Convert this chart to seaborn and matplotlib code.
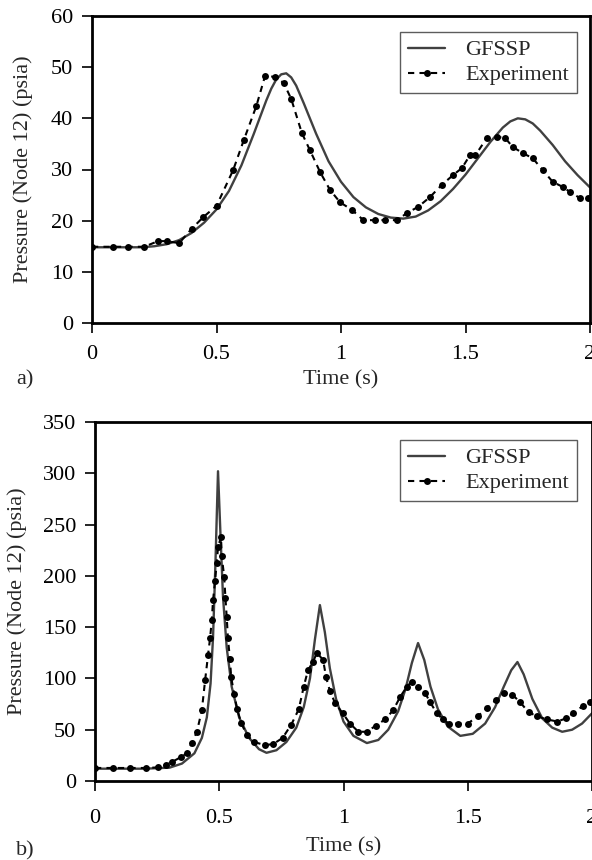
import numpy as np
import pandas as pd
import matplotlib
matplotlib.use("Agg")
import matplotlib.pyplot as plt
import seaborn as sns

# ---------------- data: panel a ----------------
a_gfssp_t = [0.0, 0.1, 0.2, 0.25, 0.3, 0.35, 0.4, 0.45, 0.5, 0.55, 0.6, 0.65, 0.7, 0.72, 0.74,
             0.76, 0.78, 0.8, 0.82, 0.85, 0.9, 0.95, 1.0, 1.05, 1.1, 1.15, 1.2, 1.25, 1.3,
             1.35, 1.4, 1.45, 1.5, 1.55, 1.6, 1.65, 1.68, 1.71, 1.74, 1.77, 1.8, 1.85, 1.9,
             1.95, 2.0]
a_gfssp_p = [14.8, 14.8, 14.8, 15.0, 15.4, 16.2, 17.6, 19.6, 22.2, 25.8, 30.8, 37.0, 43.5, 45.8, 47.6,
             48.6, 48.8, 48.0, 46.4, 43.0, 37.0, 31.6, 27.6, 24.6, 22.6, 21.3, 20.6, 20.4, 20.8,
             22.0, 23.8, 26.2, 29.0, 32.2, 35.4, 38.2, 39.4, 40.0, 39.8, 39.0, 37.6, 34.8, 31.6,
             28.9, 26.5]
a_exp_t = [0.0, 0.085, 0.145, 0.21, 0.265, 0.3, 0.35, 0.4, 0.447, 0.5, 0.567, 0.61, 0.66, 0.695,
           0.735, 0.77, 0.80, 0.843, 0.875, 0.916, 0.956, 0.996, 1.044, 1.09, 1.137, 1.177,
           1.225, 1.265, 1.31, 1.357, 1.405, 1.45, 1.486, 1.518, 1.54, 1.586, 1.627, 1.66,
           1.69, 1.73, 1.77, 1.81, 1.85, 1.89, 1.92, 1.96, 1.99]
a_exp_p = [14.9, 14.9, 14.9, 14.9, 16.0, 16.0, 15.6, 18.4, 20.7, 22.9, 29.9, 35.8, 42.4, 48.3,
           48.1, 46.9, 43.8, 37.1, 33.8, 29.5, 26.0, 23.6, 22.1, 20.1, 20.1, 20.1,
           20.1, 21.5, 22.7, 24.6, 27.0, 28.9, 30.3, 32.8, 32.8, 36.2, 36.4, 36.1,
           34.4, 33.2, 32.2, 29.9, 27.6, 26.6, 25.6, 24.4, 24.4]

# ---------------- data: panel b ----------------
b_gfssp_t = [0.0, 0.1, 0.2, 0.3, 0.35, 0.4, 0.43, 0.45, 0.465, 0.475, 0.485, 0.495, 0.505,
             0.515, 0.53, 0.55, 0.58, 0.62, 0.66, 0.69, 0.73, 0.77, 0.81, 0.84, 0.865, 0.885,
             0.905, 0.925, 0.945, 0.97, 1.0, 1.04, 1.094, 1.14, 1.18, 1.22, 1.25, 1.275, 1.30,
             1.325, 1.35, 1.38, 1.42, 1.47, 1.52, 1.57, 1.61, 1.645, 1.675, 1.70, 1.725, 1.76,
             1.80, 1.84, 1.88, 1.92, 1.96, 2.0]
b_gfssp_p = [12.0, 12.0, 12.0, 13.0, 17.0, 27.0, 42.0, 62.0, 95.0, 140.0, 215.0, 302.0, 240.0,
             180.0, 130.0, 92.0, 62.0, 42.0, 31.0, 27.5, 30.0, 38.0, 52.0, 72.0, 100.0, 138.0,
             171.5, 145.0, 110.0, 80.0, 58.0, 44.0, 37.0, 40.0, 50.0, 68.0, 90.0, 115.0, 134.5,
             118.0, 92.0, 70.0, 53.0, 44.0, 46.0, 56.0, 72.0, 92.0, 108.0, 116.0, 104.0, 80.0,
             61.0, 52.0, 48.0, 50.0, 56.0, 66.0]
b_exp_t = [0.0, 0.073, 0.14, 0.205, 0.255, 0.285, 0.31, 0.346, 0.37, 0.39, 0.41, 0.43, 0.443,
           0.455, 0.463, 0.47, 0.475, 0.483, 0.49, 0.495, 0.507, 0.51, 0.52, 0.525, 0.53, 0.535,
           0.543, 0.548, 0.56, 0.572, 0.588, 0.61, 0.64, 0.684, 0.717, 0.755, 0.79, 0.82, 0.84,
           0.857, 0.877, 0.893, 0.918, 0.93, 0.945, 0.966, 0.997, 1.026, 1.06, 1.094, 1.13,
           1.167, 1.2, 1.228, 1.255, 1.275, 1.3, 1.328, 1.348, 1.376, 1.4, 1.425, 1.46, 1.5,
           1.54, 1.577, 1.614, 1.646, 1.68, 1.71, 1.745, 1.78, 1.82, 1.86, 1.895, 1.925, 1.962,
           1.99]
b_exp_p = [12.7, 12.7, 12.7, 12.7, 13.3, 15.6, 18.5, 23.4, 27.3, 37.0, 48.0, 69.0, 98.0,
           123.0, 139.0, 157.0, 176.0, 195.0, 213.0, 228.0, 238.0, 219.0, 199.0, 178.0, 160.0, 139.0,
           119.0, 101.0, 85.0, 70.0, 57.0, 45.0, 38.0, 35.0, 36.0, 42.0, 55.0, 70.0, 92.0,
           108.0, 116.0, 125.0, 118.0, 101.0, 88.0, 76.0, 66.0, 56.0, 48.0, 48.0, 54.0,
           60.0, 69.0, 82.0, 92.0, 97.0, 92.0, 86.0, 77.0, 66.0, 60.0, 56.0, 56.0, 56.0,
           63.0, 71.0, 79.0, 86.0, 84.0, 77.0, 67.0, 63.0, 60.0, 58.0, 61.0, 66.0, 73.0,
           77.0]

x_ticks = [0, 0.5, 1, 1.5, 2]
x_tick_labels = ["0", "0.5", "1", "1.5", "2"]
a_y_ticks = [0, 10, 20, 30, 40, 50, 60]
b_y_ticks = [0, 50, 100, 150, 200, 250, 300, 350]
series_names = ["GFSSP", "Experiment"]
panel_labels = ["a)", "b)"]

sns.set_theme(style="ticks")
plt.rcParams["font.family"] = ["Liberation Serif", "DejaVu Serif"]
plt.rcParams["font.size"] = 16

W, H = 592, 860
fig = plt.figure(figsize=(W / 100, H / 100), dpi=100)
# axes boxes in pixel coords (left, top, right, bottom)
box_a = (92, 16, 590, 323)
box_b = (95, 422, 592, 781)


def add_axes(box):
    l, t, r, b = box
    return fig.add_axes([l / W, 1 - b / H, (r - l) / W, (b - t) / H])


ax_a = add_axes(box_a)
ax_b = add_axes(box_b)

gcol = "#404040"
FS = 16


def draw(ax, box, gt, gp, et, ep, yticks, ymax, label, label_y, ylab_x, xlab_y, leg_anchor, xpad):
    l, t, r, b = box
    dg = pd.DataFrame({"t": gt, "p": gp})
    de = pd.DataFrame({"t": et, "p": ep})
    sns.lineplot(data=dg, x="t", y="p", ax=ax, color=gcol, linewidth=1.7,
                 label=series_names[0])
    sns.lineplot(data=de, x="t", y="p", ax=ax, color="black", linewidth=1.5,
                 linestyle=(0, (3, 2.5)), marker="o", markersize=5,
                 markeredgewidth=0, label=series_names[1])
    ax.set_xlim(0, 2)
    ax.set_ylim(0, ymax)
    ax.set_xticks(x_ticks)
    ax.set_xticklabels(x_tick_labels)
    ax.set_yticks(yticks)
    ax.tick_params(axis="both", direction="out", length=7.5, width=1.2, colors="black",
                   labelsize=FS)
    ax.tick_params(axis="x", pad=xpad)
    ax.tick_params(axis="y", pad=6)
    for s in ax.spines.values():
        s.set_linewidth(2.0)
        s.set_color("black")
    ax.set_xlabel("Time (s)", fontsize=FS)
    ax.set_ylabel("Pressure (Node 12) (psia)", fontsize=FS)
    ax.yaxis.set_label_coords((ylab_x - l) / (r - l), 0.5)
    ax.xaxis.set_label_coords(0.5, (b - xlab_y) / (b - t))
    ax.xaxis.label.set_va("center")
    ax.yaxis.label.set_va("center")
    leg = ax.legend(loc="upper right", frameon=True, fancybox=False, fontsize=FS,
                    edgecolor="#333333", borderpad=0.35, handlelength=1.7,
                    handletextpad=0.9, bbox_to_anchor=leg_anchor, labelspacing=0.2,
                    borderaxespad=0)
    leg.get_frame().set_linewidth(1.0)
    fig.text(25 / W, 1 - label_y / H, label, fontsize=FS, ha="center", va="center")


draw(ax_a, box_a, a_gfssp_t, a_gfssp_p, a_exp_t, a_exp_p, a_y_ticks, 60, panel_labels[0],
     380, 23, 380, ((577 - 92) / 498, (323 - 32) / 307), 8)
draw(ax_b, box_b, b_gfssp_t, b_gfssp_p, b_exp_t, b_exp_p, b_y_ticks, 350, panel_labels[1],
     851, 17, 847, ((577 - 95) / 497, (781 - 440) / 359), 12.5)

fig.savefig("out.png", dpi=100)
